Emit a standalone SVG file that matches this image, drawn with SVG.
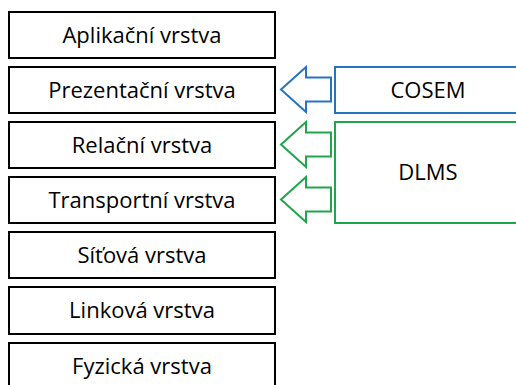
<svg xmlns="http://www.w3.org/2000/svg" width="516" height="385" viewBox="0 0 516 385">
  <style>
    .layer { fill: #ffffff; stroke: #000000; stroke-width: 2; }
    .lbl { font-family: "Open Sans", "Liberation Sans", sans-serif; font-size: 22px; fill: #000000; text-anchor: middle; }
    .blue { fill: #ffffff; stroke: #2574c4; stroke-width: 2; }
    .green { fill: #ffffff; stroke: #1fa64c; stroke-width: 2; }
  </style>
  <rect width="516" height="385" fill="#ffffff"/>

  <g id="layer-application">
    <rect class="layer" x="9" y="12" width="266" height="46"/>
    <text class="lbl" x="142" y="43">Aplikační vrstva</text>
  </g>
  <g id="layer-presentation">
    <rect class="layer" x="9" y="67" width="266" height="46"/>
    <text class="lbl" x="142" y="98">Prezentační vrstva</text>
  </g>
  <g id="layer-session">
    <rect class="layer" x="9" y="122" width="266" height="46"/>
    <text class="lbl" x="142" y="153">Relační vrstva</text>
  </g>
  <g id="layer-transport">
    <rect class="layer" x="9" y="177" width="266" height="46"/>
    <text class="lbl" x="142" y="208">Transportní vrstva</text>
  </g>
  <g id="layer-network">
    <rect class="layer" x="9" y="232" width="266" height="46"/>
    <text class="lbl" x="142" y="263">Síťová vrstva</text>
  </g>
  <g id="layer-link">
    <rect class="layer" x="9" y="287" width="266" height="47"/>
    <text class="lbl" x="142" y="318">Linková vrstva</text>
  </g>
  <g id="layer-physical">
    <rect class="layer" x="9" y="343" width="266" height="46"/>
    <text class="lbl" x="142" y="374">Fyzická vrstva</text>
  </g>

  <g id="cosem">
    <rect class="blue" x="335" y="67" width="200" height="46"/>
    <text class="lbl" x="428" y="98">COSEM</text>
  </g>
  <g id="dlms">
    <rect class="green" x="335" y="122" width="200" height="101"/>
    <text class="lbl" x="428" y="180">DLMS</text>
  </g>

  <g id="connectors">
    <polygon class="blue" points="281,89.5 306,67 306,77.5 331,77.5 331,101.5 306,101.5 306,112"/>
    <polygon class="green" points="281,144.5 306,122 306,132.5 331,132.5 331,156.5 306,156.5 306,167"/>
    <polygon class="green" points="281,199.5 306,177 306,187.5 331,187.5 331,211.5 306,211.5 306,222"/>
  </g>
</svg>
